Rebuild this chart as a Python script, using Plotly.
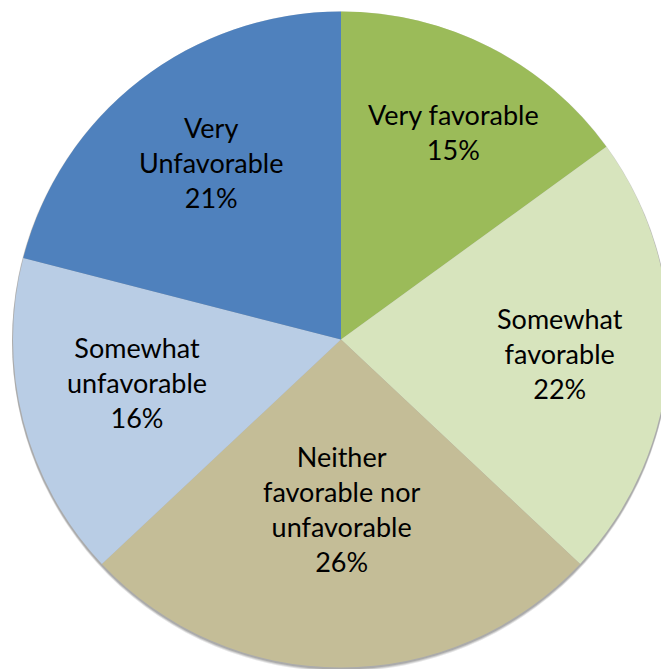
import math
import plotly.graph_objects as go

categories = ["Very favorable", "Somewhat favorable", "Neither favorable nor unfavorable",
              "Somewhat unfavorable", "Very Unfavorable"]
display_text = ["Very favorable", "Somewhat<br>favorable", "Neither<br>favorable nor<br>unfavorable",
                "Somewhat<br>unfavorable", "Very<br>Unfavorable"]
values = [15, 22, 26, 16, 21]
colors = ["#9BBB59", "#D7E4BD", "#C4BD97", "#B9CDE5", "#4F81BD"]
label_radius = [0.72, 0.668, 0.517, 0.636, 0.67]   # label distance from centre, fraction of radius
label_turn = [1.5, 0, 0, 2.4, 1.6]                  # small angular nudge of labels, degrees

W, H = 677, 669
cx, cy, R = 341, 339.5, 328

fig = go.Figure()
fig.add_trace(go.Pie(
    labels=categories, values=values, textinfo="none",
    sort=False, direction="clockwise", rotation=0,
    marker=dict(colors=colors, line=dict(width=0)),
    showlegend=False, hoverinfo="skip",
    domain=dict(x=[(cx - R) / W, (cx + R) / W], y=[(H - cy - R) / H, (H - cy + R) / H]),
))

total = sum(values)
cum = 0
for txt, v, f, t in zip(display_text, values, label_radius, label_turn):
    mid = (cum + v / 2) / total * 2 * math.pi + math.radians(t)
    cum += v
    px = cx + f * R * math.sin(mid)
    py = cy - f * R * math.cos(mid)
    fig.add_annotation(xref="paper", yref="paper", x=px / W, y=(H - py) / H,
                       xanchor="center", yanchor="middle", showarrow=False, align="center",
                       text=f"{txt}<br>{round(v / total * 100)}%",
                       font=dict(family="Lato", size=27, color="#000000"))

# soft shadow under the pie
for off, op in [(4, 0.10), (3, 0.12), (2, 0.15)]:
    fig.add_shape(type="circle", xref="paper", yref="paper", layer="below",
                  x0=(cx - R - 1) / W, x1=(cx + R + 1) / W,
                  y0=(H - cy - R - off) / H, y1=(H - cy + R - off + 2) / H,
                  fillcolor=f"rgba(0,0,0,{op})", line=dict(width=0))
fig.update_layout(width=W, height=H, margin=dict(l=0, r=0, t=0, b=0),
                  paper_bgcolor="white", plot_bgcolor="white")
fig.write_html("out.html", post_script="document.body.style.overflow='hidden';document.body.style.margin='0';")
